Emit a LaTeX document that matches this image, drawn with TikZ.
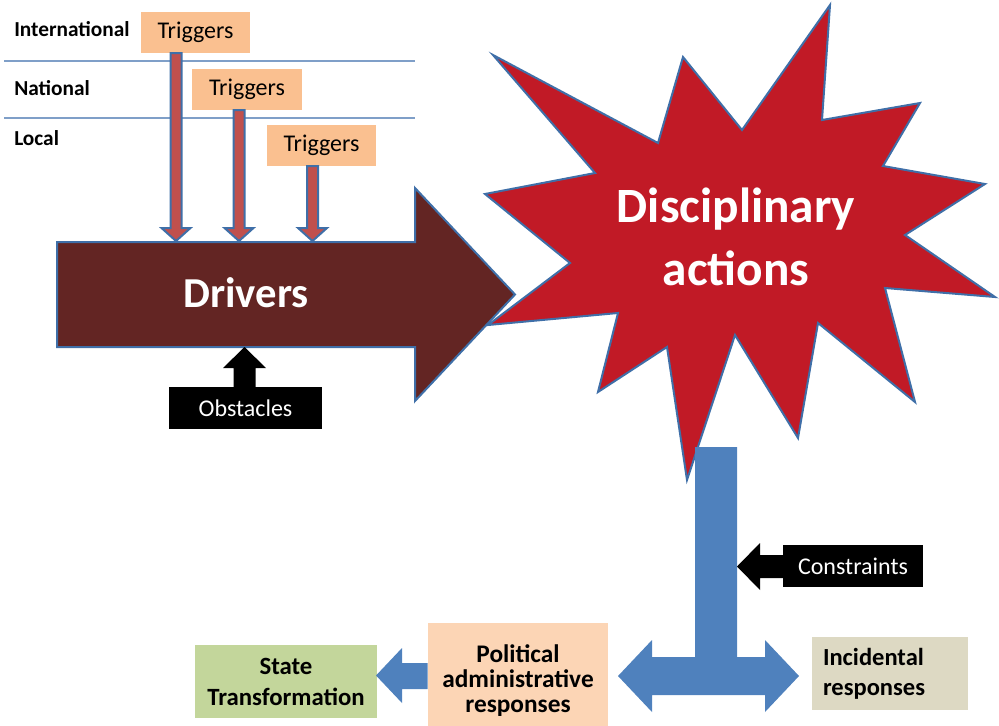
\documentclass[tikz,border=0pt]{standalone}
\usepackage{fontspec}
\setmainfont{Carlito}
\usetikzlibrary{calc}

\definecolor{trigfill}{HTML}{FAC090}
\definecolor{trigshaft}{HTML}{C0504D}
\definecolor{edgeblue}{HTML}{3F6FA8}
\definecolor{driverfill}{HTML}{632523}
\definecolor{starfill}{HTML}{C11A26}
\definecolor{flowblue}{HTML}{4F81BD}
\definecolor{levelline}{HTML}{7F9FC8}
\definecolor{statefill}{HTML}{C3D69B}
\definecolor{polfill}{HTML}{FCD5B5}
\definecolor{incfill}{HTML}{DDD9C3}

\tikzset{
  levellabel/.style={anchor=west, inner sep=0pt, font=\fontsize{16}{19}\selectfont\bfseries},
  trigbox/.style={fill=trigfill, minimum width=82pt, minimum height=30.75pt, inner sep=0pt,
    font=\fontsize{18}{21}\selectfont},
  trigarrow/.style={fill=trigshaft, draw=edgeblue, line width=1.5pt, line join=miter},
  blackbox/.style={fill=black, text=white, inner sep=0pt, font=\fontsize{18}{21}\selectfont},
  respbox/.style={inner sep=0pt, font=\bfseries, align=center},
}

\begin{document}
\begin{tikzpicture}[x=0.75pt,y=-0.75pt]
\useasboundingbox (0,0) rectangle (999,725);

% level separators and level names
\coordinate (sepA) at (4,61);
\coordinate (sepAend) at (415,61);
\coordinate (sepB) at (4,118);
\coordinate (sepBend) at (415,118);
\draw[levelline, line width=0.9pt] (sepA) -- (sepAend);
\draw[levelline, line width=0.9pt] (sepB) -- (sepBend);
\node[levellabel] (intl) at (14,29) {International};
\node[levellabel] (natl) at (14,88) {National};
\node[levellabel] (locl) at (14,138) {Local};

% the burst
\draw[fill=starfill, draw=edgeblue, line width=1.5pt, line join=miter]
  (493,55) -- (658,143) -- (683,57) -- (742,130) -- (830,5) -- (822,120)
  -- (920,103) -- (883,166) -- (985,184) -- (905,235) -- (995,297)
  -- (885,288) -- (915,402) -- (818,323) -- (798,438) -- (735,335)
  -- (687,480) -- (667,347) -- (598,392) -- (618,313) -- (488,325)
  -- (570,263) -- (485,194) -- (595,173) -- cycle;
\node[text=white, font=\fontsize{37}{47}\selectfont\bfseries, align=center, inner sep=0pt]
  (disc) at (736,237) {Disciplinary\\actions};

% the drivers block arrow
\draw[fill=driverfill, draw=edgeblue, line width=1.5pt, line join=miter]
  (57,242) -- (415,242) -- (415,188) -- (515,294.5) -- (415,401) -- (415,347)
  -- (57,347) -- cycle;
\node[text=white, font=\fontsize{32}{38}\selectfont\bfseries, inner sep=0pt]
  (drivers) at (246,293) {Drivers};

% triggers
\node[trigbox] (t1) at (195.5,32.5) {Triggers};
\node[trigbox] (t2) at (247,89.5) {Triggers};
\node[trigbox] (t3) at (321.5,145.5) {Triggers};

% trigger arrows, from the boxes down onto the drivers
\draw[trigarrow] (170.5,53) -- (181.5,53) -- (181.5,228) -- (190.5,228) -- (176,241)
  -- (161.5,228) -- (170.5,228) -- cycle;
\draw[trigarrow] (233.5,110) -- (244.5,110) -- (244.5,228) -- (253.5,228) -- (239,241)
  -- (224.5,228) -- (233.5,228) -- cycle;
\draw[trigarrow] (307,166) -- (318,166) -- (318,228) -- (327,228) -- (312.5,241)
  -- (298,228) -- (307,228) -- cycle;

% obstacles
\node[blackbox, minimum width=114.75pt, minimum height=31.5pt] (obst) at (245.5,408) {Obstacles};
\fill[black] (233.5,387) -- (255.5,387) -- (255.5,368) -- (266,368) -- (244.5,347)
  -- (223,368) -- (233.5,368) -- cycle;

% outcome branches
\fill[flowblue] (695,447) -- (737,447) -- (737,657) -- (765,657) -- (765,640)
  -- (799,676) -- (765,712) -- (765,695) -- (652,695) -- (652,712) -- (618,676)
  -- (652,640) -- (652,657) -- (695,657) -- cycle;

% constraints
\node[blackbox, minimum width=105pt, minimum height=31.5pt] (cons) at (853,566) {Constraints};
\fill[black] (783,555) -- (760,555) -- (760,543) -- (737,566.5) -- (760,590)
  -- (760,578) -- (783,578) -- cycle;

% responses
\node[respbox, fill=polfill, minimum width=135pt, minimum height=86.25pt,
  font=\fontsize{19}{18.75}\selectfont\bfseries] (pol) at (518,680.5)
  {Political\\administrative\\responses};
\node[respbox, fill=statefill, minimum width=136.5pt, minimum height=54.75pt,
  font=\fontsize{18.6}{23.25}\selectfont\bfseries] (state) at (286,681.5)
  {State\\Transformation};
\node[respbox, fill=incfill, minimum width=117pt, minimum height=54.75pt,
  text width=100.5pt, inner xsep=8.25pt, align=left,
  font=\fontsize{18.4}{22.5}\selectfont\bfseries] (inc) at (890,673.5)
  {Incidental\\responses};

% political responses lead to state transformation
\fill[flowblue] (427.5,663) -- (402,663) -- (402,648) -- (376,675.5) -- (402,703)
  -- (402,689) -- (427.5,689) -- cycle;

\end{tikzpicture}
\end{document}
